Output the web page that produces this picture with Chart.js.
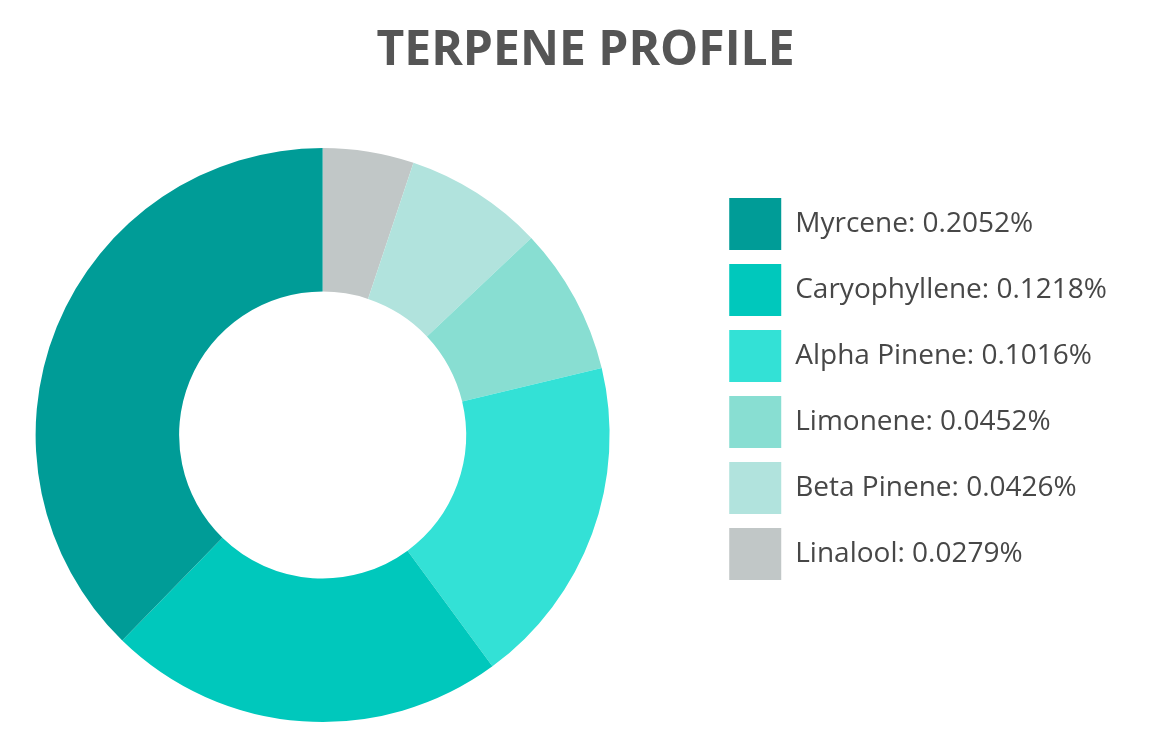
<!DOCTYPE html>
<html>
<head>
<meta charset="utf-8">
<script src="https://cdn.jsdelivr.net/npm/chart.js@4/dist/chart.umd.min.js"></script>
<style>
  html, body { margin: 0; padding: 0; background: #ffffff; }
  #wrap { width: 1171px; height: 745px; }
</style>
</head>
<body>
<div id="wrap"><canvas id="c" width="1171" height="745"></canvas></div>
<script>
// ---- data ----
const chartTitle = 'TERPENE PROFILE';
const terpenes = ['Myrcene', 'Caryophyllene', 'Alpha Pinene', 'Limonene', 'Beta Pinene', 'Linalool'];
const percentages = [0.2052, 0.1218, 0.1016, 0.0452, 0.0426, 0.0279];
const sliceColors = ['#009C97', '#00C8BC', '#33E1D6', '#88DED2', '#B1E3DD', '#C1C7C7'];

// legend labels built from the data
const legendLabels = terpenes.map((t, i) => t + ': ' + percentages[i].toFixed(4) + '%');

// slices are drawn clockwise from the top starting with the last item
const order = terpenes.map((_, i) => terpenes.length - 1 - i);

// small layout adjustment: plot region and legend positions
const layoutTweak = {
  id: 'layoutTweak',
  afterLayout(chart) {
    const a = chart.chartArea;
    a.left -= 124;
    a.width = a.right - a.left;
    const lg = chart.legend;
    if (lg) {
      lg.top += 56; lg.height = lg.bottom - lg.top;
      lg.left -= 54; lg.right -= 54;
    }
  }
};

new Chart(document.getElementById('c'), {
  type: 'doughnut',
  data: {
    labels: order.map(i => legendLabels[i]),
    datasets: [{
      data: order.map(i => percentages[i]),
      backgroundColor: order.map(i => sliceColors[i]),
      borderWidth: 0,
      hoverOffset: 0,
      clip: false
    }]
  },
  options: {
    responsive: false,
    animation: false,
    devicePixelRatio: 1,
    cutout: '50%',
    layout: { padding: { top: 0, bottom: 23, left: 0, right: 0 } },
    plugins: {
      title: {
        display: true,
        text: chartTitle,
        color: '#555555',
        font: { family: "'Open Sans', sans-serif", size: 48, weight: 'bold', lineHeight: 1.2 },
        padding: { top: 23, bottom: 67.4 }
      },
      legend: {
        position: 'right',
        align: 'center',
        reverse: true,
        labels: {
          boxWidth: 52,
          boxHeight: 52,
          padding: 14,
          color: '#474747',
          font: { family: "'Open Sans', sans-serif", size: 28 }
        }
      },
      tooltip: { enabled: false }
    }
  },
  plugins: [layoutTweak]
});
</script>
</body>
</html>
